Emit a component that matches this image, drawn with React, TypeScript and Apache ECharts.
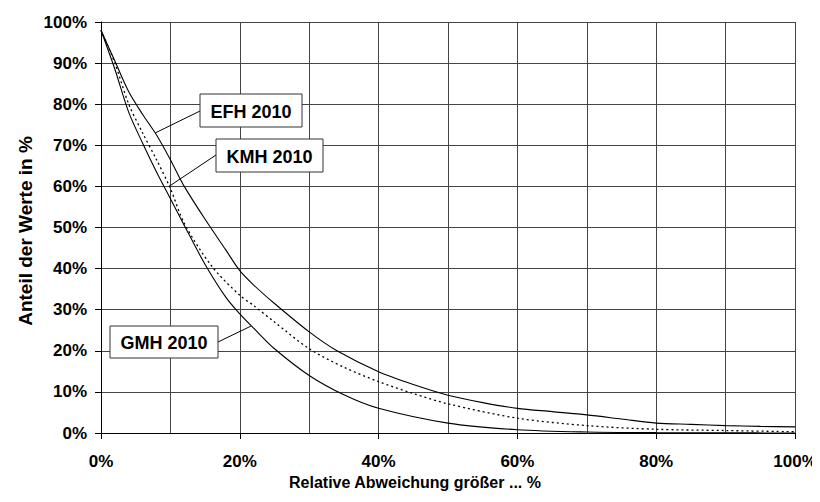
import React, { useEffect, useRef } from "react";
import * as echarts from "echarts";

// Relative Abweichung (x, %) -> Anteil der Werte (y, %)
const efhX = [0, 2, 4, 6, 8, 10, 12, 15, 18, 20, 22, 25, 30, 34, 40, 45, 50, 55, 60, 65, 70, 75, 80, 85, 90, 95, 100];
const efhY = [98, 90.5, 83, 77.5, 72.5, 66.5, 60, 52, 44.5, 39.5, 36, 31.5, 24.6, 20, 14.9, 11.8, 9.2, 7.4, 6.0, 5.2, 4.4, 3.4, 2.4, 2.1, 1.8, 1.6, 1.5];

const kmhX = [0, 2, 4, 6, 8, 10, 12, 16, 20, 22, 25, 30, 35, 40, 45, 50, 60, 70, 80, 90, 100];
const kmhY = [98, 90, 80, 73, 66.5, 59.5, 51, 40.5, 33.5, 31, 27, 20.5, 16, 12.5, 9.6, 7.1, 3.6, 1.8, 0.9, 0.6, 0.3];

const gmhX = [0, 2, 4, 6, 8, 10, 12, 15, 18, 20, 22, 25, 30, 35, 40, 50, 60, 70, 80, 90, 100];
const gmhY = [98, 88.5, 78, 70.5, 63.5, 57, 50.5, 41, 33, 29, 25.5, 20.5, 14, 9.3, 6, 2.4, 0.8, 0.25, 0.08, 0.03, 0.01];

const seriesNames = ["EFH 2010", "KMH 2010", "GMH 2010"];
const yTicks = [0, 10, 20, 30, 40, 50, 60, 70, 80, 90, 100];

const pairs = (xs: number[], ys: number[]) => xs.map((x, i) => [x, ys[i]]);

const FONT = "'Liberation Sans', Arial, sans-serif";

export default function App() {
  const ref = useRef<HTMLDivElement>(null);
  useEffect(() => {
    if (!ref.current) return;
    const chart = echarts.init(ref.current, undefined, { renderer: "svg" });
    const lineBase = { type: "line", showSymbol: false, symbol: "none", smooth: 0.3, z: 5 };
    chart.setOption({
      animation: false,
      backgroundColor: "#ffffff",
      grid: { left: 101, right: 25, top: 22, bottom: 69, containLabel: false },
      xAxis: {
        type: "value",
        min: 0,
        max: 100,
        interval: 20,
        axisLine: { show: true, lineStyle: { color: "#000", width: 1 } },
        axisTick: { show: true, length: 6, lineStyle: { color: "#000" } },
        minorTick: { show: false, splitNumber: 2 },
        splitLine: { show: true, lineStyle: { color: "#444", width: 1 } },
        minorSplitLine: { show: true, lineStyle: { color: "#444", width: 1 } },
        axisLabel: {
          formatter: "{value}%",
          color: "#000",
          fontFamily: FONT,
          fontWeight: "bold",
          fontSize: 17,
          margin: 20,
        },
      },
      yAxis: {
        type: "value",
        min: 0,
        max: 100,
        interval: 10,
        axisLine: { show: true, lineStyle: { color: "#000", width: 1 } },
        axisTick: { show: true, length: 6, lineStyle: { color: "#000" } },
        splitLine: { show: true, lineStyle: { color: "#444", width: 1 } },
        axisLabel: {
          formatter: (v: number) => (yTicks.includes(v) ? v + "%" : ""),
          color: "#000",
          fontFamily: FONT,
          fontWeight: "bold",
          fontSize: 17,
          margin: 14,
        },
      },
      series: [
        { ...lineBase, name: seriesNames[0], data: pairs(efhX, efhY), lineStyle: { color: "#000", width: 1.1, type: "solid" } },
        { ...lineBase, name: seriesNames[1], data: pairs(kmhX, kmhY), lineStyle: { color: "#000", width: 1.3, type: [2, 3] } },
        { ...lineBase, name: seriesNames[2], data: pairs(gmhX, gmhY), lineStyle: { color: "#000", width: 1.1, type: "solid" } },
      ],
    });

    const px = (p: number[]) => chart.convertToPixel({ xAxisIndex: 0, yAxisIndex: 0 }, p) as number[];
    const efhPt = px([7.8, 73]);
    const kmhPt = px([9.8, 60]);
    const gmhPt = px([21.6, 26]);

    const box = (x: number, y: number, w: number, h: number, text: string) => [
      {
        type: "rect",
        shape: { x, y, width: w, height: h },
        style: { fill: "#fff", stroke: "#333", lineWidth: 1 },
        z: 20,
      },
      {
        type: "text",
        x: x + w / 2,
        y: y + h / 2 + 1,
        style: { text, fill: "#000", font: `bold 18px ${FONT}`, align: "center", verticalAlign: "middle" },
        z: 21,
      },
    ];

    chart.setOption({
      graphic: [
        { type: "line", shape: { x1: 200, y1: 111, x2: efhPt[0], y2: efhPt[1] }, style: { stroke: "#000", lineWidth: 1 }, z: 19 },
        { type: "line", shape: { x1: 216, y1: 155, x2: kmhPt[0], y2: kmhPt[1] }, style: { stroke: "#000", lineWidth: 1 }, z: 19 },
        { type: "line", shape: { x1: 218, y1: 342, x2: gmhPt[0], y2: gmhPt[1] }, style: { stroke: "#000", lineWidth: 1 }, z: 19 },
        ...box(200, 94, 102, 33, seriesNames[0]),
        ...box(216, 139, 107, 33, seriesNames[1]),
        ...box(110, 326, 108, 32, seriesNames[2]),
        {
          type: "text",
          x: 415,
          y: 482,
          style: { text: "Relative Abweichung größer ... %", fill: "#000", font: `bold 16px ${FONT}`, align: "center", verticalAlign: "middle" },
        },
        {
          type: "text",
          x: 25,
          y: 231,
          rotation: Math.PI / 2,
          style: { text: "Anteil der Werte in %", fill: "#000", font: `bold 19px ${FONT}`, align: "center", verticalAlign: "middle" },
        },
      ],
    });

    return () => chart.dispose();
  }, []);
  return <div ref={ref} style={{ width: 820, height: 502, margin: -8 }} />;
}
